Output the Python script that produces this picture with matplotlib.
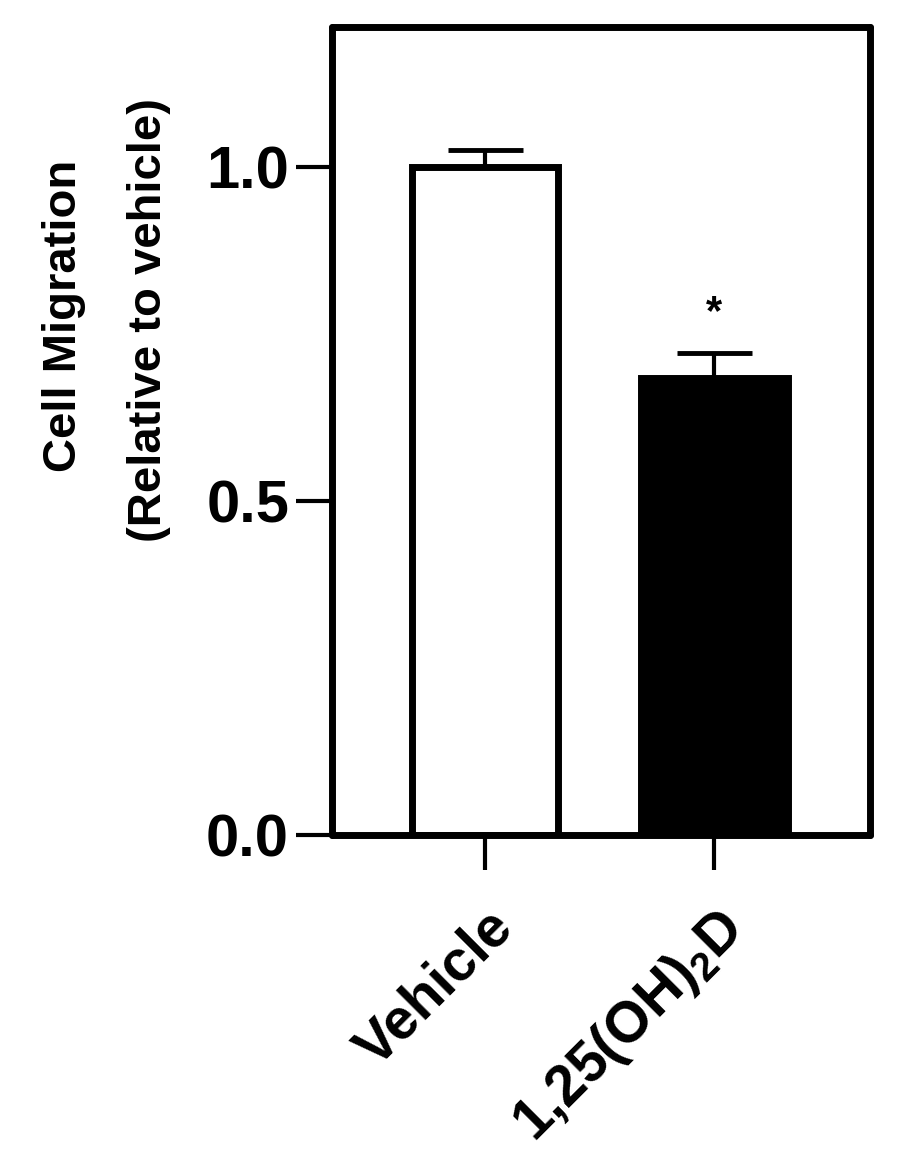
import matplotlib.pyplot as plt

# values
groups = ['Vehicle', r'1,25(OH)$_{\mathbf{2}}$D']
migration = [1.0, 0.685]
sem = [0.025, 0.037]
face_colors = ['white', 'black']
stars = ['', '*']

plt.rcParams['font.family'] = ['Liberation Sans', 'DejaVu Sans']
plt.rcParams['font.weight'] = 'bold'
plt.rcParams['mathtext.fontset'] = 'custom'
plt.rcParams['mathtext.bf'] = 'Liberation Sans:bold'
plt.rcParams['mathtext.rm'] = 'Liberation Sans:bold'

fig = plt.figure(figsize=(9, 11.6), dpi=100)
ax = fig.add_axes([0.369, 0.2802, 0.598, 0.6966])

x = range(len(groups))
ax.bar(x, migration, width=0.64, color=face_colors, edgecolor='black',
       linewidth=5, zorder=2)
ax.errorbar(x, migration, yerr=[[0] * len(sem), sem], fmt='none',
            ecolor='black', elinewidth=3, capsize=27, capthick=3.5, zorder=1)

for xi, (m, e, s) in enumerate(zip(migration, sem, stars)):
    if s:
        ax.text(xi, m + e + 0.03, s, ha='center', va='bottom',
                fontsize=30, fontweight='bold')

ax.set_xlim(-0.668, 1.681)
ax.set_ylim(0, 1.21)
ax.set_yticks([0.0, 0.5, 1.0])
ax.set_yticklabels(['0.0', '0.5', '1.0'])
ax.set_xticks(list(x))
ax.set_xticklabels(groups, rotation=45, ha='right', rotation_mode='anchor')

for sp in ax.spines.values():
    sp.set_linewidth(5)
    sp.set_capstyle('round')

ax.tick_params(axis='y', length=26, width=3, pad=5, labelsize=43)
ax.tick_params(axis='x', length=25, width=3, pad=22, labelsize=41)

# two-line y label, set a bit above the axes centre like the original
fig.text(0.071, 0.728, 'Cell Migration', rotation=90, ha='center',
         va='center', fontsize=34, fontweight='bold')
fig.text(0.166, 0.724, '(Relative to vehicle)', rotation=90, ha='center',
         va='center', fontsize=34, fontweight='bold')

fig.savefig('out.png', dpi=100)
